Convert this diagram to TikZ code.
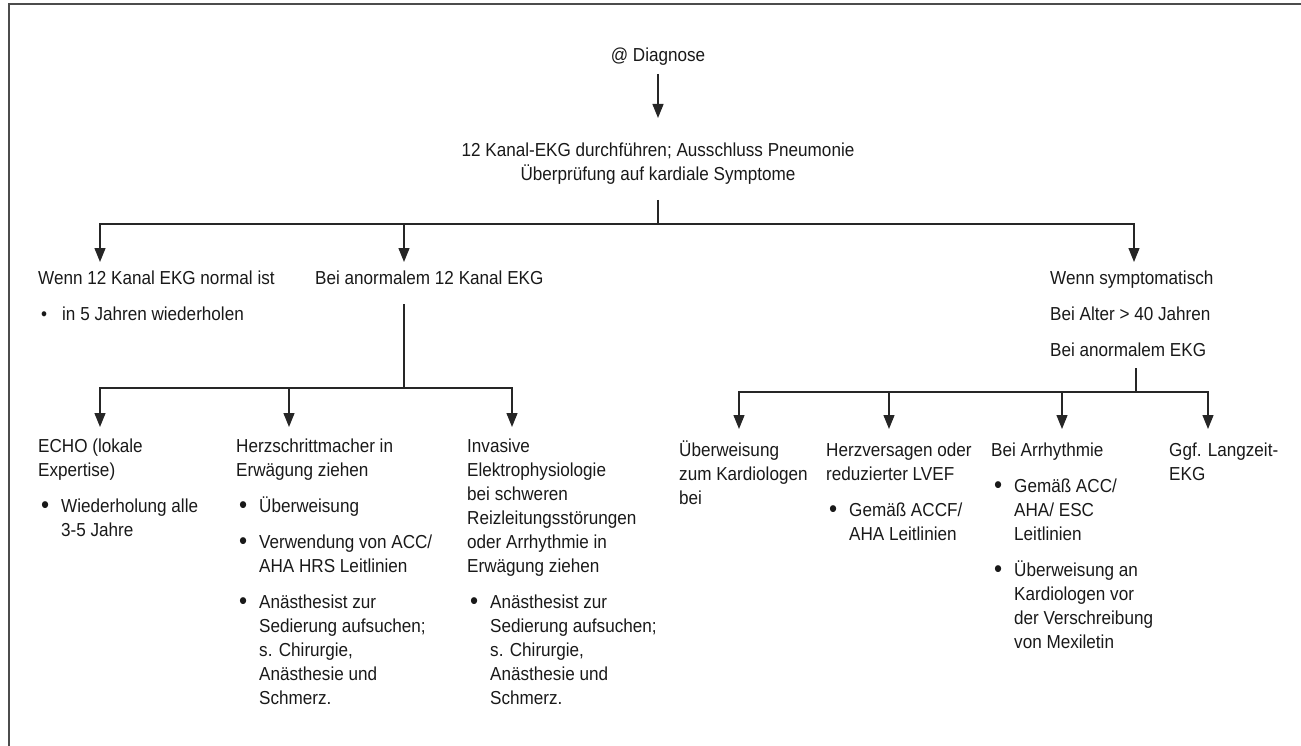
\documentclass[tikz,border=0pt]{standalone}
\usepackage{fontspec}
\setmainfont{Liberation Sans}[FakeStretch=0.91]
\usetikzlibrary{arrows.meta}
\newcommand{\bul}{\makebox[23pt][l]{\hspace{3pt}\raisebox{-1.2pt}{\scalebox{1.35}{•}}}}
\newcommand{\sbul}{\makebox[24pt][l]{\hspace{3pt}•}}
\newcommand{\ind}{\hspace*{23pt}}
\newcommand{\st}{\rule{0pt}{18pt}}
\begin{document}
\begin{tikzpicture}[x=1pt,y=-1pt,
  txt/.style={anchor=north west, inner sep=0pt, align=left, font=\fontsize{18.8}{24}\selectfont, text=black!90},
  ln/.style={draw=black!85, line width=1.3pt},
  arr/.style={ln, -{Triangle[length=14pt,width=11pt]}}]
\useasboundingbox (0,0) rectangle (1301,746);
\draw[black!70, line width=2pt] (8.5,746) -- (8.5,4.5) -- (1301,4.5);

% top
\node[txt, anchor=base] (diag) at (658,62) {@ Diagnose};
\node[txt, anchor=north, align=center] (main) at (658,138) {\st 12 Kanal-EKG durchführen; Ausschluss Pneumonie\\Überprüfung auf kardiale Symptome};

% level 1
\node[txt] (normal) at (38,266) {\st Wenn 12 Kanal EKG normal ist\\[12pt]\sbul in 5 Jahren wiederholen};
\node[txt] (abn) at (315,266) {\st Bei anormalem 12 Kanal EKG};
\node[txt] (sym) at (1050,266) {\st Wenn symptomatisch\\[12pt]Bei Alter > 40 Jahren\\[12pt]Bei anormalem EKG};

% level 2 left
\node[txt] (echo) at (38,434) {\st ECHO (lokale\\Expertise)\\[12pt]\bul Wiederholung alle\\\ind 3-5 Jahre};
\node[txt] (herz) at (236,434) {\st Herzschrittmacher in\\Erwägung ziehen\\[12pt]\bul Überweisung\\[12pt]\bul Verwendung von ACC/\\\ind AHA HRS Leitlinien\\[12pt]\bul Anästhesist zur\\\ind Sedierung aufsuchen;\\\ind s. Chirurgie,\\\ind Anästhesie und\\\ind Schmerz.};
\node[txt] (inv) at (467,434) {\st Invasive\\Elektrophysiologie\\bei schweren\\Reizleitungsstörungen\\oder Arrhythmie in\\Erwägung ziehen\\[12pt]\bul Anästhesist zur\\\ind Sedierung aufsuchen;\\\ind s. Chirurgie,\\\ind Anästhesie und\\\ind Schmerz.};

% level 2 right
\node[txt] (ueb) at (679,438) {\st Überweisung\\zum Kardiologen\\bei};
\node[txt] (hv) at (826,438) {\st Herzversagen oder\\reduzierter LVEF\\[12pt]\bul Gemäß ACCF/\\\ind AHA Leitlinien};
\node[txt] (arrh) at (991,438) {\st Bei Arrhythmie\\[12pt]\bul Gemäß ACC/\\\ind AHA/ ESC\\\ind Leitlinien\\[12pt]\bul Überweisung an\\\ind Kardiologen vor\\\ind der Verschreibung\\\ind von Mexiletin};
\node[txt] (ggf) at (1169,438) {\st Ggf. Langzeit-\\EKG};

% connectors top
\draw[arr] (diag.south |- 0,74) -- (main.north |- 0,118);
\coordinate (j0) at (658,224);
\draw[ln] (main.south |- 0,200) -- (j0);
\coordinate (a1) at (100,262);
\coordinate (a2) at (404,262);
\coordinate (a3) at (1134,262);
\draw[arr] (j0) -| (a1);
\draw[arr] (j0) -| (a3);
\draw[arr] (a2 |- j0) -- (a2);

% connectors left
\coordinate (j1) at (404,388);
\draw[ln] (j1 |- 0,304) -- (j1);
\coordinate (b1) at (100,427);
\coordinate (b2) at (289,427);
\coordinate (b3) at (512,427);
\draw[arr] (j1) -| (b1);
\draw[arr] (j1) -| (b3);
\draw[arr] (b2 |- j1) -- (b2);

% connectors right
\coordinate (j2) at (1136,392);
\draw[ln] (j2 |- 0,368) -- (j2);
\coordinate (c1) at (739,429);
\coordinate (c2) at (889,429);
\coordinate (c3) at (1062,429);
\coordinate (c4) at (1208,429);
\draw[arr] (j2) -| (c1);
\draw[arr] (j2) -| (c4);
\draw[arr] (c2 |- j2) -- (c2);
\draw[arr] (c3 |- j2) -- (c3);
\end{tikzpicture}
\end{document}
